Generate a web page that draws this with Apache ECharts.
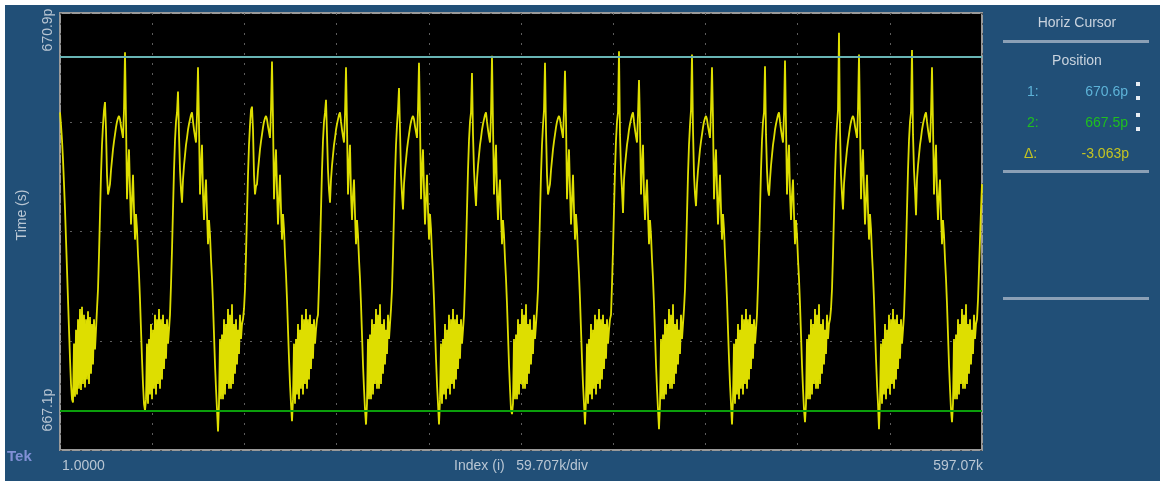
<!DOCTYPE html>
<html>
<head>
<meta charset="utf-8">
<script src="https://cdn.jsdelivr.net/npm/echarts@6/dist/echarts.min.js"></script>
<style>
html,body{margin:0;padding:0;background:#fff;}
#scope{width:1160px;height:481px;}
</style>
</head>
<body>
<div id="scope"></div>
<script>
var timePs = [
  670.12,670.01,669.88,669.71,669.50,669.28,669.02,668.76,668.50,668.24,667.99,667.77,667.64,667.61,668.12,667.66,668.24,667.68,668.33,667.73,668.42,667.72,668.44,667.77,668.37,667.74,668.33,667.81,668.40,667.77,668.35,667.86,668.29,667.94,668.33,668.07,668.24,
  668.42,668.59,668.89,669.24,669.58,669.84,670.01,670.14,670.21,669.97,669.58,669.41,669.45,669.50,669.62,669.71,669.80,669.87,669.93,669.99,670.04,670.07,670.09,670.06,670.00,669.95,669.90,670.14,670.64,670.06,669.37,669.62,669.80,669.45,669.15,669.37,669.58,669.28,669.02,669.24,669.11,668.89,668.72,668.50,668.24,667.99,667.77,667.60,667.54,667.64,668.12,667.60,668.16,667.68,668.29,667.64,668.24,667.73,668.37,667.68,668.33,667.77,668.42,667.73,668.33,667.81,668.37,667.90,668.29,667.99,668.33,668.12,668.24,
  668.37,668.63,668.93,669.28,669.62,669.88,670.04,670.12,670.30,669.93,669.62,669.45,669.34,669.54,669.66,669.75,669.84,669.90,669.97,670.02,670.06,670.10,670.12,670.04,669.97,669.91,669.86,670.10,670.51,670.01,669.41,669.66,669.84,669.41,669.19,669.41,669.54,669.24,668.98,669.19,669.06,668.85,668.68,668.46,668.20,667.94,667.73,667.55,667.36,667.60,668.16,667.64,668.20,667.64,668.33,667.68,668.29,667.77,668.42,667.73,668.37,667.73,668.46,667.77,668.29,667.86,668.33,667.94,668.24,668.03,668.37,668.16,668.29,668.33,
  668.42,668.59,668.89,669.24,669.58,669.84,670.01,670.14,670.17,669.97,669.58,669.41,669.48,669.50,669.62,669.71,669.80,669.87,669.93,669.99,670.04,670.07,670.09,670.06,670.00,669.95,669.90,670.14,670.56,670.06,669.37,669.62,669.80,669.45,669.15,669.37,669.58,669.28,669.02,669.24,669.11,668.89,668.72,668.50,668.24,667.99,667.77,667.60,667.45,667.64,668.12,667.60,668.16,667.68,668.29,667.64,668.24,667.73,668.37,667.68,668.33,667.77,668.42,667.73,668.33,667.81,668.37,667.90,668.29,667.99,668.33,668.12,668.24,668.33,
  668.37,668.63,668.93,669.28,669.62,669.88,670.04,670.12,670.23,669.93,669.62,669.45,669.34,669.54,669.66,669.75,669.84,669.90,669.97,670.02,670.06,670.10,670.12,670.04,669.97,669.91,669.86,670.10,670.51,670.01,669.41,669.66,669.84,669.41,669.19,669.41,669.54,669.24,668.98,669.19,669.06,668.85,668.68,668.46,668.20,667.94,667.73,667.55,667.42,667.60,668.16,667.64,668.20,667.64,668.33,667.68,668.29,667.77,668.42,667.73,668.37,667.73,668.46,667.77,668.29,667.86,668.33,667.94,668.24,668.03,668.37,668.16,668.29,
  668.42,668.59,668.89,669.24,669.58,669.84,670.01,670.14,670.33,669.97,669.58,669.41,669.28,669.50,669.62,669.71,669.80,669.87,669.93,669.99,670.04,670.07,670.09,670.06,670.00,669.95,669.90,670.14,670.55,670.06,669.37,669.62,669.80,669.45,669.15,669.37,669.58,669.28,669.02,669.24,669.11,668.89,668.72,668.50,668.24,667.99,667.77,667.60,667.42,667.64,668.12,667.60,668.16,667.68,668.29,667.64,668.24,667.73,668.37,667.68,668.33,667.77,668.42,667.73,668.33,667.81,668.37,667.90,668.29,667.99,668.33,668.12,668.24,
  668.37,668.63,668.93,669.28,669.62,669.88,670.04,670.12,670.46,669.93,669.62,669.45,669.31,669.54,669.66,669.75,669.84,669.90,669.97,670.02,670.06,670.10,670.12,670.04,669.97,669.91,669.86,670.10,670.61,670.01,669.41,669.66,669.84,669.41,669.19,669.41,669.54,669.24,668.98,669.19,669.06,668.85,668.68,668.46,668.20,667.94,667.73,667.55,667.51,667.60,668.16,667.64,668.20,667.64,668.33,667.68,668.29,667.77,668.42,667.73,668.37,667.73,668.46,667.77,668.29,667.86,668.33,667.94,668.24,668.03,668.37,668.16,668.29,
  668.42,668.59,668.89,669.24,669.58,669.84,670.01,670.14,670.55,669.97,669.58,669.41,669.40,669.50,669.62,669.71,669.80,669.87,669.93,669.99,670.04,670.07,670.09,670.06,670.00,669.95,669.90,670.14,670.48,670.06,669.37,669.62,669.80,669.45,669.15,669.37,669.58,669.28,669.02,669.24,669.11,668.89,668.72,668.50,668.24,667.99,667.77,667.60,667.42,667.64,668.12,667.60,668.16,667.68,668.29,667.64,668.24,667.73,668.37,667.68,668.33,667.77,668.42,667.73,668.33,667.81,668.37,667.90,668.29,667.99,668.33,668.12,668.24,668.33,
  668.37,668.63,668.93,669.28,669.62,669.88,670.04,670.12,670.65,669.93,669.62,669.45,669.25,669.54,669.66,669.75,669.84,669.90,669.97,670.02,670.06,670.10,670.12,670.04,669.97,669.91,669.86,670.10,670.40,670.01,669.41,669.66,669.84,669.41,669.19,669.41,669.54,669.24,668.98,669.19,669.06,668.85,668.68,668.46,668.20,667.94,667.73,667.55,667.38,667.60,668.16,667.64,668.20,667.64,668.33,667.68,668.29,667.77,668.42,667.73,668.37,667.73,668.46,667.77,668.29,667.86,668.33,667.94,668.24,668.03,668.37,668.16,668.29,
  668.42,668.59,668.89,669.24,669.58,669.84,670.01,670.14,670.62,669.97,669.58,669.41,669.31,669.50,669.62,669.71,669.80,669.87,669.93,669.99,670.04,670.07,670.09,670.06,670.00,669.95,669.90,670.14,670.51,670.06,669.37,669.62,669.80,669.45,669.15,669.37,669.58,669.28,669.02,669.24,669.11,668.89,668.72,668.50,668.24,667.99,667.77,667.60,667.42,667.64,668.12,667.60,668.16,667.68,668.29,667.64,668.24,667.73,668.37,667.68,668.33,667.77,668.42,667.73,668.33,667.81,668.37,667.90,668.29,667.99,668.33,668.12,668.24,
  668.37,668.63,668.93,669.28,669.62,669.88,670.04,670.12,670.52,669.93,669.62,669.45,669.40,669.54,669.66,669.75,669.84,669.90,669.97,670.02,670.06,670.10,670.12,670.04,669.97,669.91,669.86,670.10,670.57,670.01,669.41,669.66,669.84,669.41,669.19,669.41,669.54,669.24,668.98,669.19,669.06,668.85,668.68,668.46,668.20,667.94,667.73,667.55,667.44,667.60,668.16,667.64,668.20,667.64,668.33,667.68,668.29,667.77,668.42,667.73,668.37,667.73,668.46,667.77,668.29,667.86,668.33,667.94,668.24,668.03,668.37,668.16,668.29,668.33,
  668.42,668.59,668.89,669.24,669.58,669.84,670.01,670.14,670.81,669.97,669.58,669.41,669.28,669.50,669.62,669.71,669.80,669.87,669.93,669.99,670.04,670.07,670.09,670.06,670.00,669.95,669.90,670.14,670.62,670.06,669.37,669.62,669.80,669.45,669.15,669.37,669.58,669.28,669.02,669.24,669.11,668.89,668.72,668.50,668.24,667.99,667.77,667.60,667.38,667.64,668.12,667.60,668.16,667.68,668.29,667.64,668.24,667.73,668.37,667.68,668.33,667.77,668.42,667.73,668.33,667.81,668.37,667.90,668.29,667.99,668.33,668.12,668.24,
  668.37,668.63,668.93,669.28,669.62,669.88,670.04,670.12,670.66,669.93,669.62,669.45,669.23,669.54,669.66,669.75,669.84,669.90,669.97,670.02,670.06,670.10,670.12,670.04,669.97,669.91,669.86,670.10,670.51,670.01,669.41,669.66,669.84,669.41,669.19,669.41,669.54,669.24,668.98,669.19,669.06,668.85,668.68,668.46,668.20,667.94,667.73,667.55,667.44,667.60,668.16,667.64,668.20,667.64,668.33,667.68,668.29,667.77,668.42,667.73,668.37,667.73,668.46,667.77,668.29,667.86,668.33,667.94,668.24,668.03,668.37,668.16,668.29,
  668.33,668.50,668.76,669.02,669.28,669.50
];

// record span (sample index)
var indexStart = 1;
var indexEnd = 597070;
var indexPerDiv = 59707;

// horizontal cursors
var cursorPs = [670.6, 667.537];
var cursorText = ['670.6p', '667.5p'];
var deltaText = '-3.063p';

// screen labels
var yEdgeLabels = ['670.9p', '667.1p'];
var xEdgeLabels = ['1.0000', '597.07k'];
var xScaleText = 'Index (i)   59.707k/div';
var yTitle = 'Time (s)';

var step = (indexEnd - indexStart) / (timePs.length - 1);
var wave = timePs.map(function (v, i) { return [indexStart + i * step, v]; });

var labelFont = 'Liberation Sans';
var labelColor = '#b9c6d3';

var chart = echarts.init(document.getElementById('scope'), null, {renderer: 'canvas'});

var panelLine = function (y) {
  return {type: 'rect', shape: {x: 1003, y: y, width: 146, height: 3}, style: {fill: '#8ba0b6'}, silent: true};
};
var txt = function (x, y, s, color, align, size, extra) {
  var o = {type: 'text', x: x, y: y, silent: true,
    style: {text: s, fill: color, font: (size || 14) + 'px "' + labelFont + '"', textAlign: align || 'left', textVerticalAlign: 'middle'}};
  if (extra) { for (var k in extra) o[k] = extra[k]; }
  return o;
};
var dot = function (x, y) {
  return {type: 'rect', shape: {x: x, y: y, width: 4, height: 4}, style: {fill: '#e8eef4'}, silent: true};
};

var option = {
  animation: false,
  backgroundColor: '#214f77',
  grid: {left: 60, top: 13, width: 922, height: 437, show: true, backgroundColor: '#000',
    borderColor: '#9a9a9a', borderWidth: 2},
  xAxis: {
    type: 'value', min: 0, max: indexEnd, interval: indexPerDiv,
    axisLine: {show: false}, axisTick: {show: false}, axisLabel: {show: false},
    splitLine: {show: true, lineStyle: {color: '#5c5c5c', width: 1, type: [2, 8]}}
  },
  yAxis: [
    {type: 'value', min: 667.2, max: 670.98, axisLine: {show: false}, axisTick: {show: false},
      axisLabel: {show: false}, splitLine: {show: false}},
    {type: 'value', min: 0, max: 4, interval: 1, axisLine: {show: false}, axisTick: {show: false},
      axisLabel: {show: false}, splitLine: {show: true, lineStyle: {color: '#5c5c5c', width: 1, type: [2, 8]}}}
  ],
  series: [{
    type: 'line',
    data: wave,
    yAxisIndex: 0,
    showSymbol: false,
    sampling: 'none',
    clip: true,
    lineStyle: {color: '#dede00', width: 1.8},
    markLine: {
      silent: true, symbol: ['none', 'none'], label: {show: false},
      data: [
        {yAxis: cursorPs[0], lineStyle: {color: '#68b4b4', width: 2, type: 'solid'}},
        {yAxis: cursorPs[1], lineStyle: {color: '#0b9e0b', width: 2, type: 'solid'}}
      ]
    }
  }],
  graphic: [
    {type: 'rect', shape: {x: 0, y: 0, width: 1160, height: 5}, style: {fill: '#fff'}, silent: true},
    {type: 'rect', shape: {x: 0, y: 0, width: 5, height: 481}, style: {fill: '#fff'}, silent: true},
    // left labels (vertical)
    txt(48, 30, yEdgeLabels[0], labelColor, 'center', 14, {rotation: Math.PI / 2}),
    txt(22, 215, yTitle, labelColor, 'center', 14, {rotation: Math.PI / 2}),
    txt(48, 410, yEdgeLabels[1], labelColor, 'center', 14, {rotation: Math.PI / 2}),
    // bottom labels
    txt(7, 457, 'Tek', '#8190d6', 'left', 15, null),
    txt(62, 466, xEdgeLabels[0], labelColor, 'left', 14),
    txt(521, 466, xScaleText, labelColor, 'center', 14),
    txt(983, 466, xEdgeLabels[1], labelColor, 'right', 14),
    // cursor readout panel
    txt(1077, 23, 'Horiz Cursor', '#c9d3de', 'center', 14),
    panelLine(40),
    txt(1077, 61, 'Position', '#c9d3de', 'center', 14),
    txt(1027, 92, '1:', '#5db3d8', 'left', 14),
    txt(1128, 92, cursorText[0], '#5db3d8', 'right', 14),
    dot(1136, 82), dot(1136, 96),
    txt(1027, 123, '2:', '#1fbf1f', 'left', 14),
    txt(1128, 123, cursorText[1], '#1fbf1f', 'right', 14),
    dot(1136, 113), dot(1136, 127),
    txt(1024, 154, '\u0394:', '#c4c422', 'left', 14),
    txt(1129, 154, deltaText, '#c4c422', 'right', 14),
    panelLine(170),
    panelLine(297)
  ]
};
option.graphic[5].style.font = 'bold 15px "' + labelFont + '"';

chart.setOption(option);
</script>
</body>
</html>
